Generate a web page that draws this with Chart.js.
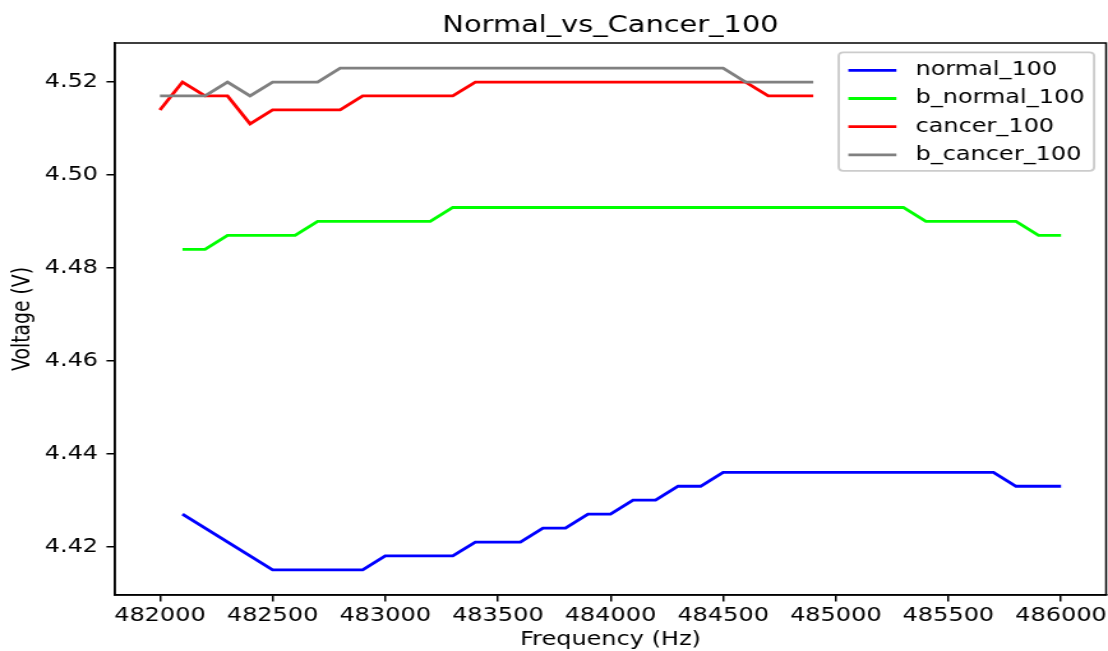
<!DOCTYPE html>
<html>
<head>
<meta charset="utf-8">
<title>Normal_vs_Cancer_100</title>
<script src="https://cdn.jsdelivr.net/npm/chart.js@4/dist/chart.umd.min.js"></script>
<style>
  html, body { margin: 0; padding: 0; background: #ffffff; overflow: hidden; }
  #chart { display: block; transform: scaleX(1.2765); transform-origin: 0 0; }
</style>
</head>
<body>
<canvas id="chart" width="868" height="651"></canvas>
<script>
// Sweep frequencies (Hz), one reading every 100 Hz
const frequencies = [
  482000, 482100, 482200, 482300, 482400, 482500, 482600, 482700, 482800, 482900,
  483000, 483100, 483200, 483300, 483400, 483500, 483600, 483700, 483800, 483900,
  484000, 484100, 484200, 484300, 484400, 484500, 484600, 484700, 484800, 484900,
  485000, 485100, 485200, 485300, 485400, 485500, 485600, 485700, 485800, 485900,
  486000
];

// Measured voltages (V); null = no reading at that frequency
const normal100 = [
  null, 4.427, null, null, null, 4.415, 4.415, 4.415, 4.415, 4.415,
  4.418, 4.418, 4.418, 4.418, 4.421, 4.421, 4.421, 4.424, 4.424, 4.427,
  4.427, 4.430, 4.430, 4.433, 4.433, 4.436, 4.436, 4.436, 4.436, 4.436,
  4.436, 4.436, 4.436, 4.436, 4.436, 4.436, 4.436, 4.436, 4.433, 4.433,
  4.433
];
const bNormal100 = [
  null, 4.484, 4.484, 4.487, 4.487, 4.487, 4.487, 4.490, 4.490, 4.490,
  4.490, 4.490, 4.490, 4.493, 4.493, 4.493, 4.493, 4.493, 4.493, 4.493,
  4.493, 4.493, 4.493, 4.493, 4.493, 4.493, 4.493, 4.493, 4.493, 4.493,
  4.493, 4.493, 4.493, 4.493, 4.490, 4.490, 4.490, 4.490, 4.490, 4.487,
  4.487
];
const cancer100 = [
  4.514, 4.520, 4.517, 4.517, 4.511, 4.514, 4.514, 4.514, 4.514, 4.517,
  4.517, 4.517, 4.517, 4.517, 4.520, 4.520, 4.520, 4.520, 4.520, 4.520,
  4.520, 4.520, 4.520, 4.520, 4.520, 4.520, 4.520, 4.517, 4.517, 4.517,
  null, null, null, null, null, null, null, null, null, null,
  null
];
const bCancer100 = [
  4.517, 4.517, 4.517, 4.520, 4.517, 4.520, 4.520, 4.520, 4.523, 4.523,
  4.523, 4.523, 4.523, 4.523, 4.523, 4.523, 4.523, 4.523, 4.523, 4.523,
  4.523, 4.523, 4.523, 4.523, 4.523, 4.523, 4.520, 4.520, 4.520, 4.520,
  null, null, null, null, null, null, null, null, null, null,
  null
];

const seriesNames = ['normal_100', 'b_normal_100', 'cancer_100', 'b_cancer_100'];
const seriesColors = ['#0000ff', '#00ff00', '#ff0000', '#808080'];

const xTickValues = [482000, 482500, 483000, 483500, 484000, 484500, 485000, 485500, 486000];
const yTickValues = [4.42, 4.44, 4.46, 4.48, 4.50, 4.52];

const chartTitle = 'Normal_vs_Cancer_100';
const xTitle = 'Frequency (Hz)';
const yTitle = 'Voltage (V)';

const FONT = '"DejaVu Sans", "Liberation Sans", sans-serif';

function toPoints(values) {
  return values.map((v, i) => ({ x: frequencies[i], y: v }));
}

const seriesValues = [normal100, bNormal100, cancer100, bCancer100];
const datasets = seriesValues.map((vals, i) => ({
  label: seriesNames[i],
  data: toPoints(vals),
  borderColor: seriesColors[i],
  backgroundColor: seriesColors[i],
  borderWidth: 2.8,
  pointRadius: 0,
  pointHoverRadius: 0,
  tension: 0,
  spanGaps: true,
  fill: false,
  order: seriesValues.length - i
}));

// White page, frame around the axes, title and legend box
const decorations = {
  id: 'decorations',
  beforeDraw(chart) {
    const ctx = chart.ctx;
    ctx.save();
    ctx.fillStyle = '#ffffff';
    ctx.fillRect(0, 0, chart.width, chart.height);
    ctx.restore();
  },
  afterDraw(chart) {
    const ctx = chart.ctx;
    const a = chart.chartArea;
    ctx.save();
    // axes frame
    ctx.strokeStyle = '#000000';
    ctx.lineWidth = 1.5;
    ctx.strokeRect(a.left, a.top, a.right - a.left, a.bottom - a.top);

    // title
    ctx.fillStyle = '#000000';
    ctx.font = '22.6px ' + FONT;
    ctx.textAlign = 'center';
    ctx.textBaseline = 'alphabetic';
    ctx.fillText(chartTitle, (a.left + a.right) / 2, 31.5);

    // legend (upper right)
    const fs = 18.8;
    ctx.font = fs + 'px ' + FONT;
    const labels = chart.data.datasets.map(d => d.label);
    const maxW = Math.max(...labels.map(t => ctx.measureText(t).width));
    const pad = 0.4 * fs, handleLen = 2 * fs, handleGap = 0.8 * fs, rowH = 1.5 * fs;
    const right = a.right - 0.5 * fs;
    const top = a.top + 0.5 * fs;
    const boxW = pad + handleLen + handleGap + maxW + pad;
    const boxH = pad * 2 + rowH * labels.length - 0.5 * fs;
    const left = right - boxW;
    const r = 0.2 * fs;
    ctx.beginPath();
    ctx.moveTo(left + r, top);
    ctx.lineTo(right - r, top);
    ctx.quadraticCurveTo(right, top, right, top + r);
    ctx.lineTo(right, top + boxH - r);
    ctx.quadraticCurveTo(right, top + boxH, right - r, top + boxH);
    ctx.lineTo(left + r, top + boxH);
    ctx.quadraticCurveTo(left, top + boxH, left, top + boxH - r);
    ctx.lineTo(left, top + r);
    ctx.quadraticCurveTo(left, top, left + r, top);
    ctx.closePath();
    ctx.fillStyle = 'rgba(255,255,255,0.8)';
    ctx.fill();
    ctx.strokeStyle = '#cccccc';
    ctx.lineWidth = 1.9;
    ctx.stroke();

    ctx.textAlign = 'left';
    ctx.textBaseline = 'middle';
    chart.data.datasets.forEach((d, i) => {
      const cy = top + pad + fs / 2 + i * rowH + 1;
      ctx.strokeStyle = d.borderColor;
      ctx.lineWidth = d.borderWidth;
      ctx.beginPath();
      ctx.moveTo(left + pad, cy);
      ctx.lineTo(left + pad + handleLen, cy);
      ctx.stroke();
      ctx.fillStyle = '#000000';
      ctx.fillText(d.label, left + pad + handleLen + handleGap, cy);
    });
    ctx.restore();
  }
};

new Chart(document.getElementById('chart'), {
  type: 'line',
  data: { datasets },
  options: {
    responsive: false,
    animation: false,
    devicePixelRatio: 1,
    layout: { padding: { top: 43, right: 1.5, left: 0, bottom: 0 } },
    plugins: {
      legend: { display: false },
      title: { display: false },
      tooltip: { enabled: false }
    },
    events: [],
    scales: {
      x: {
        type: 'linear',
        min: 481800,
        max: 486200,
        afterFit(scale) {
          scale.height = 56;
          scale.paddingLeft = 0;
          scale.paddingRight = 0;
        },
        afterBuildTicks(scale) { scale.ticks = xTickValues.map(v => ({ value: v })); },
        ticks: {
          color: '#000000',
          font: { family: FONT, size: 18.8 },
          padding: 3,
          maxRotation: 0,
          autoSkip: false,
          callback: v => String(v)
        },
        grid: { drawOnChartArea: false, drawTicks: true, tickLength: 6.6, color: '#000000', lineWidth: 1.5 },
        border: { display: true, color: '#000000', width: 1.5 },
        title: {
          display: true,
          text: xTitle,
          color: '#000000',
          font: { family: FONT, size: 18.8, lineHeight: 1.0 },
          padding: { top: 0, bottom: 1 }
        }
      },
      y: {
        type: 'linear',
        min: 4.4096,
        max: 4.5284,
        afterFit(scale) {
          scale.width = 90;
          scale.paddingTop = 0;
          scale.paddingBottom = 0;
        },
        afterBuildTicks(scale) { scale.ticks = yTickValues.map(v => ({ value: v })); },
        ticks: {
          color: '#000000',
          font: { family: FONT, size: 18.8 },
          padding: 6.6,
          autoSkip: false,
          callback: v => v.toFixed(2)
        },
        grid: { drawOnChartArea: false, drawTicks: true, tickLength: 6.6, color: '#000000', lineWidth: 1.5 },
        border: { display: true, color: '#000000', width: 1.5 },
        title: {
          display: true,
          text: yTitle,
          color: '#000000',
          font: { family: FONT, size: 18.8 },
          padding: { top: 7, bottom: 0 }
        }
      }
    }
  },
  plugins: [decorations]
});
</script>
</body>
</html>
